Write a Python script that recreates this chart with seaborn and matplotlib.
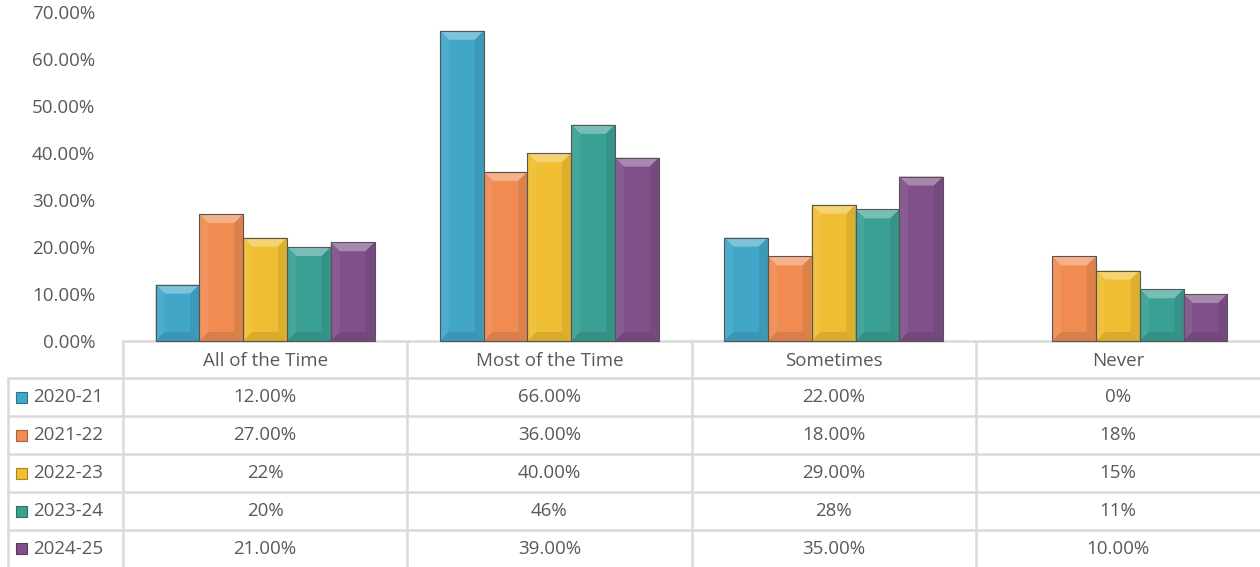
import numpy as np
import pandas as pd
import matplotlib
matplotlib.use("Agg")
import matplotlib.pyplot as plt
import seaborn as sns
from matplotlib.patches import Polygon
from matplotlib.colors import to_rgb
from matplotlib.ticker import FuncFormatter

# data
categories = ["All of the Time", "Most of the Time", "Sometimes", "Never"]
years = ["2020-21", "2021-22", "2022-23", "2023-24", "2024-25"]
values = {
    "2020-21": [12, 66, 22, 0],
    "2021-22": [27, 36, 18, 18],
    "2022-23": [22, 40, 29, 15],
    "2023-24": [20, 46, 28, 11],
    "2024-25": [21, 39, 35, 10],
}
table_labels = {
    "2020-21": ["12.00%", "66.00%", "22.00%", "0%"],
    "2021-22": ["27.00%", "36.00%", "18.00%", "18%"],
    "2022-23": ["22%", "40.00%", "29.00%", "15%"],
    "2023-24": ["20%", "46%", "28%", "11%"],
    "2024-25": ["21.00%", "39.00%", "35.00%", "10.00%"],
}
colors = ["#42A6C8", "#F08C52", "#F0BE32", "#3AA094", "#80508A"]

rows = []
for y in years:
    for c, v in zip(categories, values[y]):
        rows.append({"category": c, "year": y, "value": v})
df = pd.DataFrame(rows)

sns.set_theme(style="white")
plt.rcParams["font.family"] = ["Open Sans", "DejaVu Sans"]
text_color = "#595959"
line_color = "#D9D9D9"
fs = 13.5

W, H = 1260, 567
fig = plt.figure(figsize=(12.6, 5.67), dpi=100)

# plot area in pixel layout
left, right, top, bottom = 123, 1260, 12, 341
ax = fig.add_axes([left / W, (H - bottom) / H, (right - left) / W, (bottom - top) / H])

sns.barplot(data=df, x="category", y="value", hue="year", order=categories,
            hue_order=years, palette=colors, width=0.77, saturation=1,
            edgecolor="#4a4a4a", linewidth=0.6, legend=False, ax=ax)

ax.set_ylim(0, 70)
ax.set_xlim(-0.5, 3.5)
ax.set_yticks(np.arange(0, 71, 10))
ax.yaxis.set_major_formatter(FuncFormatter(lambda v, p: f"{v:.2f}%"))
ax.tick_params(axis="y", labelsize=fs, colors=text_color, length=0, pad=20)
ax.set_xticks([])
ax.set_xlabel("")
ax.set_ylabel("")
for s in ax.spines.values():
    s.set_visible(False)
ax.patch.set_alpha(0)

# bevel effect on bars
fig.canvas.draw()


def shade(c, f):
    r = np.array(to_rgb(c))
    if f > 0:
        return tuple(r + (1 - r) * f)
    return tuple(r * (1 + f))


for patch in ax.patches:
    h = patch.get_height()
    if h <= 0:
        continue
    x0, y0 = patch.get_x(), patch.get_y()
    (px0, py0), (px1, py1) = ax.transData.transform([(x0, y0), (x0 + patch.get_width(), y0 + h)])
    b = min(9, (py1 - py0) / 2)
    c = patch.get_facecolor()
    polys = [
        ([(px0, py1), (px1, py1), (px1 - b, py1 - b), (px0 + b, py1 - b)], 0.32),
        ([(px0, py0), (px0, py1), (px0 + b, py1 - b), (px0 + b, py0 + b)], 0.06),
        ([(px1, py0), (px1, py1), (px1 - b, py1 - b), (px1 - b, py0 + b)], -0.08),
        ([(px0, py0), (px1, py0), (px1 - b, py0 + b), (px0 + b, py0 + b)], -0.1),
    ]
    for pts, f in polys:
        fig.patches.append(Polygon(pts, closed=True, facecolor=shade(c, f),
                                   edgecolor="none", transform=None, zorder=5))
    fig.patches.append(Polygon([(px0, py0), (px0, py1), (px1, py1), (px1, py0)], closed=True,
                               facecolor="none", edgecolor="#555555", linewidth=0.8,
                               transform=None, zorder=6))

# data table below the plot
tab = fig.add_axes([0, 0, 1, 1], zorder=-1)
tab.set_xlim(0, W)
tab.set_ylim(H, 0)
tab.axis("off")

col_edges = [left + i * (right - left) / 4 for i in range(5)]
row_edges = [341, 378, 416, 454, 492, 530, 567]
lw = 1.8
tab.plot([left, right], [row_edges[0], row_edges[0]], color=line_color, lw=lw)
for yy in row_edges[1:-1]:
    tab.plot([8, right], [yy, yy], color=line_color, lw=lw)
tab.plot([8, 8], [row_edges[1], H], color=line_color, lw=lw)
for xx in col_edges[:-1]:
    tab.plot([xx, xx], [row_edges[0], H], color=line_color, lw=lw)

centers = [(col_edges[i] + col_edges[i + 1]) / 2 for i in range(4)]
for cx, cat in zip(centers, categories):
    tab.text(cx, (row_edges[0] + row_edges[1]) / 2 + 1, cat, ha="center", va="center",
             fontsize=fs, color=text_color)

for i, y in enumerate(years):
    cy = (row_edges[i + 1] + row_edges[i + 2]) / 2
    tab.add_patch(plt.Rectangle((16, cy - 5.5), 11, 11, facecolor=colors[i],
                                edgecolor=shade(colors[i], -0.3), lw=0.8))
    tab.text(33, cy, y, ha="left", va="center", fontsize=fs, color=text_color)
    for cx, lab in zip(centers, table_labels[y]):
        tab.text(cx, cy, lab, ha="center", va="center", fontsize=fs, color=text_color)

fig.savefig("out.png", dpi=100)
